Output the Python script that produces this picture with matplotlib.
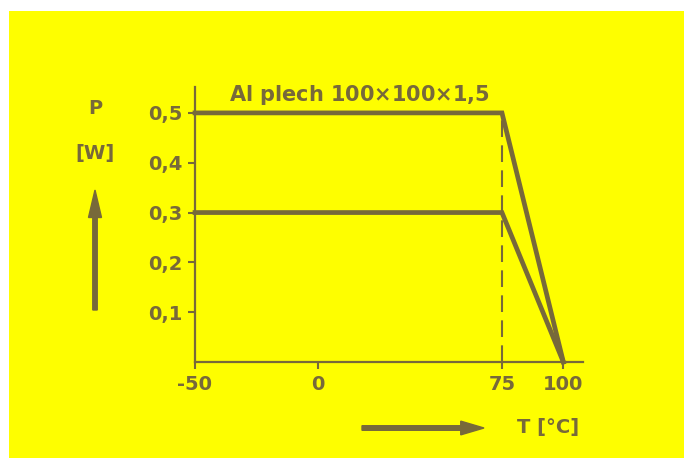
import numpy as np
import matplotlib.pyplot as plt
from matplotlib.patches import Rectangle, FancyArrow

# data
temp = [-50, 75, 100]
p_hoog = [0.5, 0.5, 0.0]
p_laag = [0.3, 0.3, 0.0]
x_ticks = [-50, 0, 75, 100]
y_ticks = [0.1, 0.2, 0.3, 0.4, 0.5]
y_labels = ['0,1', '0,2', '0,3', '0,4', '0,5']
titel = 'Al plech 100$\\times$100$\\times$1,5'

kleur = '#77693a'
geel = '#fefe00'

fig = plt.figure(figsize=(6.84, 4.58), dpi=100)
fig.patch.set_facecolor('white')
fig.patches.append(Rectangle((9/684, 0), 1, 1 - 11/458, transform=fig.transFigure,
                             facecolor=geel, edgecolor='none', zorder=-1))

ax = fig.add_axes([195/684, 1 - 362/458, 388/684, 275/458])
ax.set_facecolor('none')
ax.plot(temp, p_hoog, color=kleur, lw=3.4, solid_joinstyle='miter', clip_on=False)
ax.plot(temp, p_laag, color=kleur, lw=3.4, solid_joinstyle='miter', clip_on=False)
ax.plot([75, 75], [0, 0.5], color=kleur, lw=1.5, ls=(0, (8, 4)))

ax.set_xlim(-50, 108)
ax.set_ylim(0, 0.552)
for s in ['top', 'right']:
    ax.spines[s].set_visible(False)
for s in ['left', 'bottom']:
    ax.spines[s].set_color(kleur)
    ax.spines[s].set_linewidth(1.6)
ax.set_xticks(x_ticks)
ax.set_xticklabels([str(v) for v in x_ticks])
ax.set_yticks(y_ticks)
ax.set_yticklabels(y_labels)
ax.tick_params(colors=kleur, width=1.5, length=5, labelsize=14, pad=4)
for lab in ax.get_xticklabels() + ax.get_yticklabels():
    lab.set_fontweight('bold')
    lab.set_color(kleur)

plt.rcParams['mathtext.default'] = 'bf'
fig.text(360/684, 1 - 95/458, titel, color=kleur, fontsize=15, fontweight='bold',
         ha='center', va='center')
fig.text(95/684, 1 - 108/458, 'P', color=kleur, fontsize=14, fontweight='bold',
         ha='center', va='center')
fig.text(95/684, 1 - 153/458, '[W]', color=kleur, fontsize=14, fontweight='bold',
         ha='center', va='center')
fig.text(548/684, 1 - 428/458, 'T [°C]', color=kleur, fontsize=14, fontweight='bold',
         ha='center', va='center')

# pijlen
fig.add_artist(FancyArrow(95/684, 1 - 310/458, 0, 120/458, width=0.0065, head_width=0.019,
                          head_length=0.06, length_includes_head=True,
                          transform=fig.transFigure, color=kleur))
fig.add_artist(FancyArrow(362/684, 1 - 428/458, 122/684, 0, width=0.010, head_width=0.03,
                          head_length=0.034, length_includes_head=True,
                          transform=fig.transFigure, color=kleur))

plt.savefig('out.png', dpi=100, facecolor=fig.get_facecolor())
